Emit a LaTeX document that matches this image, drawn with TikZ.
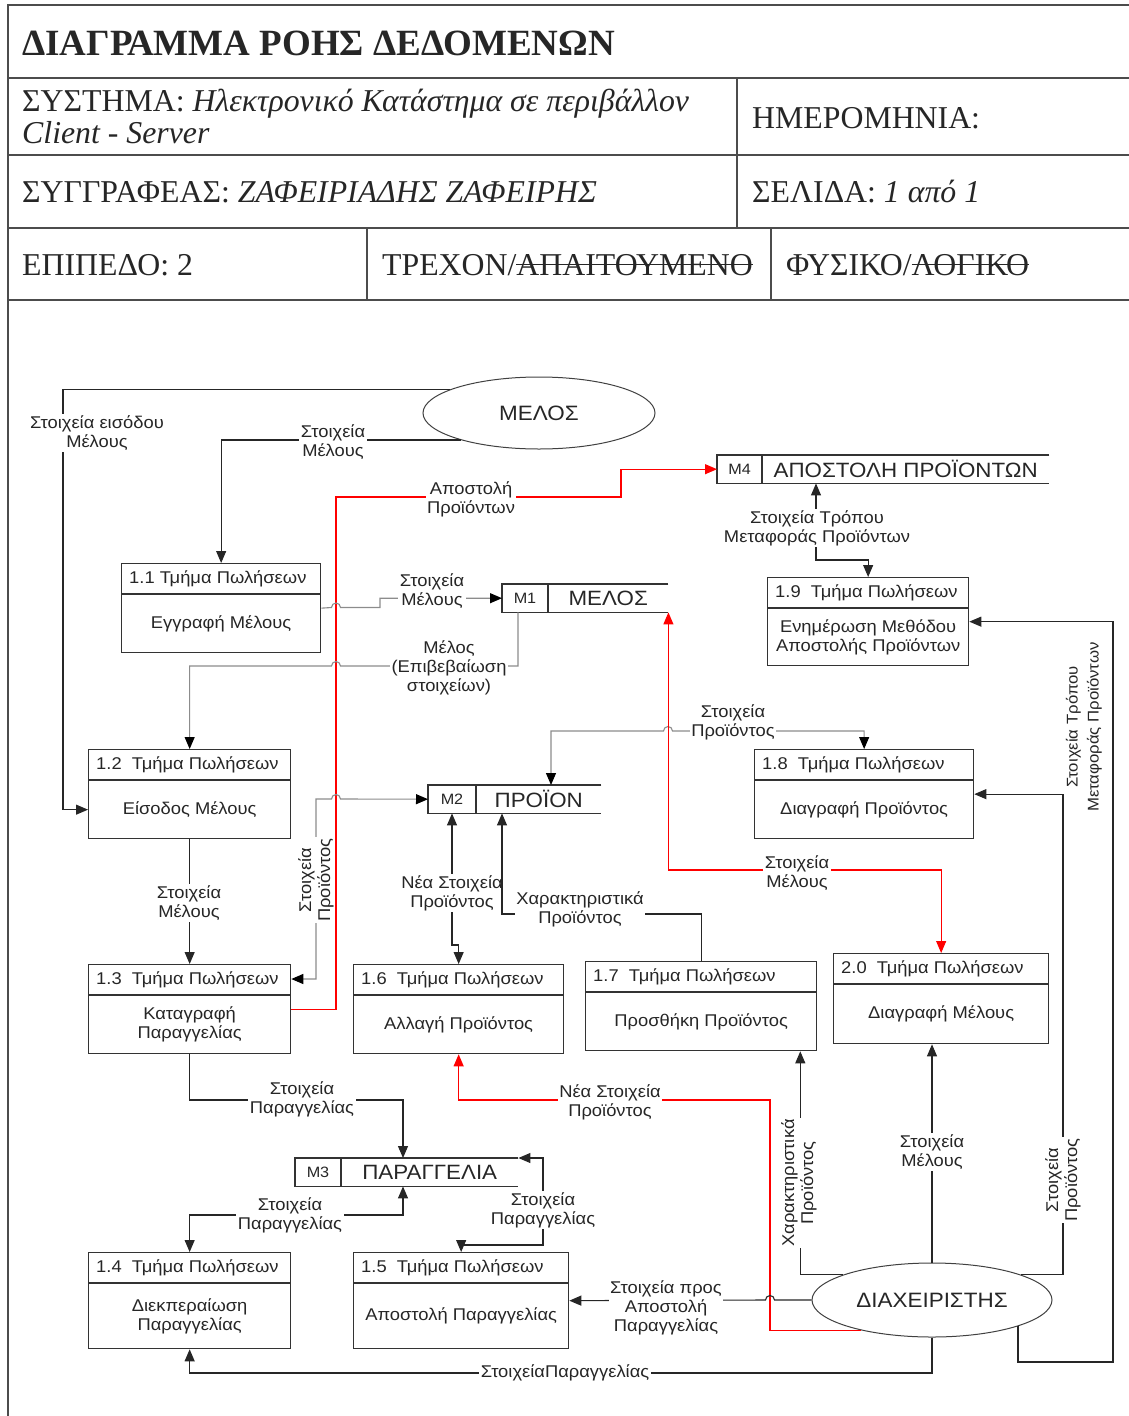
\documentclass[tikz,border=0pt]{standalone}
\usepackage{fontspec}
\setmainfont{Liberation Serif}
\newfontfamily\dfdfont[FakeStretch=1.08]{Liberation Sans}
\usetikzlibrary{arrows.meta,calc,shapes.geometric}
\definecolor{FlowRed}{rgb}{1,0,0}

\newcommand{\struck}[1]{\sbox0{#1}\rlap{\usebox0}\rule[.3em]{\wd0}{1.3pt}}
\newcommand{\jmpr}{arc[start angle=180,end angle=0,radius=4.5pt]}
\newcommand{\jmpl}{arc[start angle=0,end angle=180,radius=4.5pt]}

% process box: name, top left, width, height, title, body
\newcommand{\dfdproc}[6]{%
  \node[procbox,minimum width=#3pt,minimum height=#4pt] (#1) at (#2) {};
  \draw[boxline] ([yshift=-31pt]#1.north west) -- ([yshift=-31pt]#1.north east);
  \node[anchor=west,inner sep=0pt] at ([xshift=8pt,yshift=-15.5pt]#1.north west) {#5};
  \node[align=center] (#1b) at ($([yshift=-31pt]#1.north)!.5!(#1.south)$) {#6};
}
% data store: name, top left, width, id width, id, title
\newcommand{\dfdstore}[6]{%
  \node[storebox,minimum width=#3pt] (#1) at (#2) {};
  \draw[boxline] (#1.north east) -- (#1.north west) -- (#1.south west) -- (#1.south east);
  \draw[boxline] ([xshift=#4pt]#1.north west) -- ([xshift=#4pt]#1.south west);
  \node[font=\dfdfont\fontsize{15}{18}\selectfont] at ($(#1.west)!.5!([xshift=#4pt]#1.west)$) {#5};
  \node[font=\dfdfont\fontsize{20.7}{24}\selectfont] at ($([xshift=#4pt]#1.west)!.5!(#1.east)$) {#6};
}

\begin{document}
\begin{tikzpicture}[x=1pt,y=-1pt,
  font=\dfdfont\fontsize{17}{19}\selectfont,text=black!85,
  >={Triangle[length=12pt,width=10pt]},
  hdr/.style={anchor=base west,inner sep=0pt,font=\rmfamily\fontsize{31.8}{32}\selectfont},
  hdrline/.style={line width=1.5pt,draw=black!70},
  boxline/.style={line width=1.3pt,draw=black!80},
  procbox/.style={boxline,anchor=north west,inner sep=0pt},
  storebox/.style={anchor=north west,inner sep=0pt,minimum height=28pt},
  actor/.style={ellipse,draw=black!75,line width=1pt,inner sep=0pt,font=\dfdfont\fontsize{20.8}{24}\selectfont},
  flow/.style={line width=1.1pt,draw=black!85},
  gflow/.style={line width=1.1pt,draw=black!45,>={Triangle[length=12pt,width=10pt,color=black]}},
  rflow/.style={line width=1.1pt,draw=FlowRed},
  lbl/.style={fill=white,inner sep=1.5pt,align=center}]
\useasboundingbox (0,0) rectangle (1129,1416);

% header form
\draw[hdrline] (8,1416) -- (8,5) -- (1129,5);
\draw[hdrline] (8,78) -- (1129,78) (8,155) -- (1129,155) (8,228) -- (1129,228) (8,300) -- (1129,300);
\draw[hdrline] (737,78) -- (737,228) (367,228) -- (367,300) (771,228) -- (771,300);
\node[hdr,font=\rmfamily\bfseries\fontsize{37}{38}\selectfont] (title) at (22,55) {ΔΙΑΓΡΑΜΜΑ ΡΟΗΣ ΔΕΔΟΜΕΝΩΝ};
\node[hdr] (sys) at (22,111) {ΣΥΣΤΗΜΑ: \textit{Ηλεκτρονικό Κατάστημα σε περιβάλλον}};
\node[hdr] (sys2) at (22,143) {\textit{Client - Server}};
\node[hdr] (date) at (752,128) {ΗΜΕΡΟΜΗΝΙΑ:};
\node[hdr] (auth) at (22,202) {ΣΥΓΓΡΑΦΕΑΣ: \textit{ΖΑΦΕΙΡΙΑΔΗΣ ΖΑΦΕΙΡΗΣ}};
\node[hdr] (page) at (752,202) {ΣΕΛΙΔΑ: \textit{1 από 1}};
\node[hdr] (level) at (22,275) {ΕΠΙΠΕΔΟ: 2};
\node[hdr] (state) at (382,275) {ΤΡΕΧΟΝ/\struck{ΑΠΑΙΤΟΥΜΕΝΟ}};
\node[hdr] (kind) at (786,275) {ΦΥΣΙΚΟ/\struck{ΛΟΓΙΚΟ}};

% external entities
\node[actor,minimum width=232pt,minimum height=72pt] (melos) at (539,413) {ΜΕΛΟΣ};
\node[actor,minimum width=240pt,minimum height=74pt] (admin) at (932,1300) {ΔΙΑΧΕΙΡΙΣΤΗΣ};

% processes
\dfdproc{p11}{121,563}{199}{89}{1.1 Τμήμα Πωλήσεων}{Εγγραφή Μέλους}
\dfdproc{p12}{88,749}{202}{89}{1.2\ \ Τμήμα Πωλήσεων}{Είσοδος Μέλους}
\dfdproc{p13}{88,964}{202}{89}{1.3\ \ Τμήμα Πωλήσεων}{Καταγραφή\\Παραγγελίας}
\dfdproc{p14}{88,1252}{202}{96}{1.4\ \ Τμήμα Πωλήσεων}{Διεκπεραίωση\\Παραγγελίας}
\dfdproc{p15}{353,1252}{215}{96}{1.5\ \ Τμήμα Πωλήσεων}{Αποστολή Παραγγελίας}
\dfdproc{p16}{353,964}{210}{89}{1.6\ \ Τμήμα Πωλήσεων}{Αλλαγή Προϊόντος}
\dfdproc{p17}{585,961}{231}{89}{1.7\ \ Τμήμα Πωλήσεων}{Προσθήκη Προϊόντος}
\dfdproc{p20}{833,953}{215}{90}{2.0\ \ Τμήμα Πωλήσεων}{Διαγραφή Μέλους}
\dfdproc{p18}{754,749}{219}{89}{1.8\ \ Τμήμα Πωλήσεων}{Διαγραφή Προϊόντος}
\dfdproc{p19}{767,577}{201}{88}{1.9\ \ Τμήμα Πωλήσεων}{Ενημέρωση Μεθόδου\\Αποστολής Προϊόντων}

% data stores
\dfdstore{m4}{717,455}{332}{45}{M4}{ΑΠΟΣΤΟΛΗ ΠΡΟΪΟΝΤΩΝ}
\dfdstore{m1}{502,584}{166}{46}{M1}{ΜΕΛΟΣ}
\dfdstore{m2}{428,785}{173}{48}{M2}{ΠΡΟΪΟΝ}
\dfdstore{m3}{295,1158}{223}{46}{M3}{ΠΑΡΑΓΓΕΛΙΑ}

% data flows
\draw[flow,->] (melos.165) -| (63,600) |- (p12.west |- p12b);
\draw[flow,->] (melos.199) -| (p11.north);
\draw[rflow,->] (p13.east) -| (336,497) -| (621,480) |- (m4.west);
\draw[gflow,->] (p11.east) -- (331.5,607.5) \jmpr -| (380,600) |- (m1.west);
\draw[gflow,->] ([xshift=16pt]m1.south west) |- (340.5,666) \jmpl -| (p12.north);
\draw[flow,->] (p12.south) -- (p13.north);
\draw[gflow,<->] (m2.west) -- (340.5,799) \jmpl -| (316,900) |- ([yshift=-15pt]p13.north east);
\draw[gflow,<->] ([xshift=123pt]m2.north west) |- (663.5,731) \jmpr -| (p18.north);
\draw[rflow,->] (admin.203) -| (770,1100) -| (p16.south);
\draw[rflow,<->] (m1.south east) |- (900,870) -| (p20.north);
\draw[flow,<->] ([xshift=24pt]m2.south west) |- (455,945) -| (p16.north);
\node[lbl,inner xsep=0pt] (l11) at (452,893) {Νέα Στοιχεία\\Προϊόντος};
\draw[flow,->] (p17.north) |- (600,914) -| ([xshift=74pt]m2.south west);
\draw[flow,->] (admin.164) -| ([xshift=-17pt]p17.south east);
\draw[flow,->] (admin.north) -- (admin.north |- p20.south);
\draw[flow,->] (admin.16) -| (1063,900) |- (p18.east);
\draw[flow,->] (admin.343) |- (1100,1362) -| (1113,900) |- (p19.east);
\draw[flow,<->] ([xshift=99pt]m4.south west) |- (850,560) -| (p19.north);
\draw[flow,->] (p13.south) |- (300,1100) -| ([xshift=108pt]m3.north west);
\draw[flow,<->] ([xshift=108pt]m3.south west) |- (300,1215) -| (p14.north);
\draw[flow,<->] (m3.north east) -| (543,1200) |- (500,1245) -| (p15.north);
\draw[flow,->] (admin.west) -- (774.5,1300) \jmpl -- (p15.east);
\draw[flow,->] (admin.south) |- (500,1373) -| (p14.south);

% flow labels
\node[lbl] (l1) at (97,433) {Στοιχεία εισόδου\\Μέλους};
\node[lbl] (l2) at (333,442) {Στοιχεία\\Μέλους};
\node[lbl] (l3) at (471,499) {Αποστολή\\Προϊόντων};
\node[lbl] (l4) at (432,591) {Στοιχεία\\Μέλους};
\node[lbl] (l5) at (449,668) {Μέλος\\(Επιβεβαίωση\\στοιχείων)};
\node[lbl] (l6) at (189,903) {Στοιχεία\\Μέλους};
\node[lbl,rotate=90] (l7) at (316,880) {Στοιχεία\\Προϊόντος};
\node[lbl] (l8) at (733,722) {Στοιχεία\\Προϊόντος};
\node[lbl] (l9) at (610,1102) {Νέα Στοιχεία\\Προϊόντος};
\node[lbl] (l10) at (797,873) {Στοιχεία\\Μέλους};
\node[lbl] (l12) at (580,909) {Χαρακτηριστικά\\Προϊόντος};
\node[lbl,rotate=90] (l13) at (799,1183) {Χαρακτηριστικά\\Προϊόντος};
\node[lbl] (l14) at (932,1152) {Στοιχεία\\Μέλους};
\node[lbl,rotate=90] (l15) at (1063,1180) {Στοιχεία\\Προϊόντος};
\node[lbl,rotate=90,font=\dfdfont\fontsize{15.5}{21}\selectfont] (l16) at (1084,727) {Στοιχεία Τρόπου\\Μεταφοράς Προϊόντων};
\node[lbl] (l17) at (817,528) {Στοιχεία Τρόπου\\Μεταφοράς Προϊόντων};
\node[lbl] (l18) at (302,1099) {Στοιχεία\\Παραγγελίας};
\node[lbl] (l19) at (290,1215) {Στοιχεία\\Παραγγελίας};
\node[lbl] (l20) at (543,1210) {Στοιχεία\\Παραγγελίας};
\node[lbl] (l21) at (666,1308) {Στοιχεία προς\\Αποστολή\\Παραγγελίας};
\node[lbl] (l22) at (565,1373) {ΣτοιχείαΠαραγγελίας};
\end{tikzpicture}
\end{document}
